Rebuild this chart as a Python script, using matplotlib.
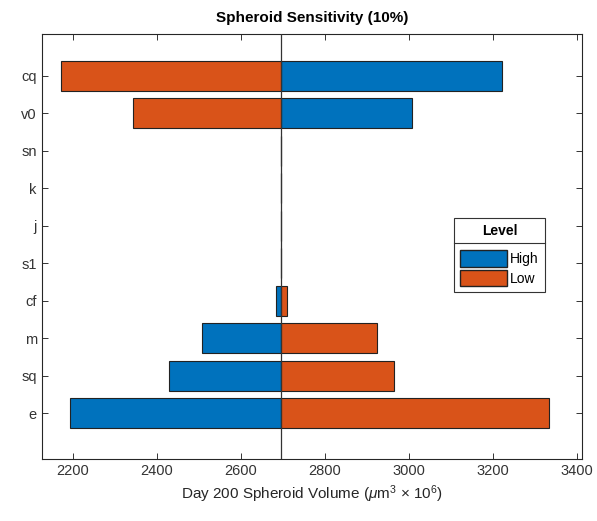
#!/usr/bin/env python3
"""Tornado plot of day-200 spheroid volume for a +/-10% parameter sweep."""

import matplotlib
matplotlib.use("Agg")
import matplotlib.pyplot as plt
from matplotlib.lines import Line2D
from matplotlib.patches import Patch

plt.rcParams["font.family"] = ["Liberation Sans", "DejaVu Sans"]
plt.rcParams["mathtext.fontset"] = "custom"
plt.rcParams["mathtext.rm"] = "Liberation Sans"
plt.rcParams["mathtext.it"] = "Liberation Sans:italic"

# === Data (volume in um^3 x 1e6) ===
BASELINE = 2695
params = ["e", "sq", "m", "cf", "s1", "j", "k", "sn", "v0", "cq"]
high_vals = [2194, 2430, 2508, 2683, 2695, 2695, 2695, 2695, 3008, 3222]
low_vals = [3333, 2964, 2924, 2710, 2695, 2695, 2695, 2695, 2343, 2172]

BLUE = "#0072BD"
ORANGE = "#D95319"


def main():
    fig = plt.figure(figsize=(5.97, 5.21), dpi=100)
    ax = fig.add_axes([0.0698, 0.119, 0.9056, 0.8157])

    ypos = list(range(1, len(params) + 1))
    hi_w = [v - BASELINE for v in high_vals]
    lo_w = [v - BASELINE for v in low_vals]

    ax.barh(ypos, hi_w, left=BASELINE, height=0.8, color=BLUE,
            edgecolor="#222222", linewidth=0.8, zorder=2)
    ax.barh(ypos, lo_w, left=BASELINE, height=0.8, color=ORANGE,
            edgecolor="#222222", linewidth=0.8, zorder=2)
    ax.axvline(BASELINE, color="#333333", linewidth=0.9, zorder=3)

    ax.set_xlim(2126, 3412)
    ax.set_ylim(-0.22, 11.11)
    ax.set_xticks([2200, 2400, 2600, 2800, 3000, 3200, 3400])
    ax.set_yticks(ypos)
    ax.set_yticklabels(params)

    ax.tick_params(direction="in", length=4, width=0.7, labelsize=10.5,
                   top=True, right=True, colors="#333333")
    for s in ax.spines.values():
        s.set_linewidth(0.8)
        s.set_color("#262626")

    ax.set_title("Spheroid Sensitivity (10%)", fontsize=11, fontweight="bold",
                 pad=9)
    ax.set_xlabel(r"Day 200 Spheroid Volume ($\mu$m$^3$ $\times$ 10$^6$)",
                  fontsize=11, color="#262626")

    handles = [Patch(facecolor=BLUE, edgecolor="#222222", label="High"),
               Patch(facecolor=ORANGE, edgecolor="#222222", label="Low")]
    leg = ax.legend(handles=handles, title="Level", loc="center right",
                    bbox_to_anchor=(0.931, 0.48), fontsize=10,
                    handlelength=3.4, handleheight=1.4, handletextpad=0.2,
                    borderpad=0.45, labelspacing=0.25, borderaxespad=0,
                    fancybox=False, framealpha=1, edgecolor="#333333")
    leg.get_title().set_fontweight("bold")
    leg.get_title().set_fontsize(10)
    leg.get_frame().set_linewidth(0.8)
    leg._legend_box.sep = 9

    # separator line under the legend title
    fig.canvas.draw()
    lb = leg.get_window_extent()
    tb = leg.get_title().get_window_extent()
    y_sep = tb.y0 - 5
    inv = fig.transFigure.inverted()
    (x0, y0), (x1, _) = inv.transform([(lb.x0, y_sep), (lb.x1, y_sep)])
    fig.add_artist(Line2D([x0, x1], [y0, y0], color="#333333", linewidth=0.8,
                          transform=fig.transFigure))

    fig.savefig("out.png", dpi=100)


if __name__ == "__main__":
    main()
